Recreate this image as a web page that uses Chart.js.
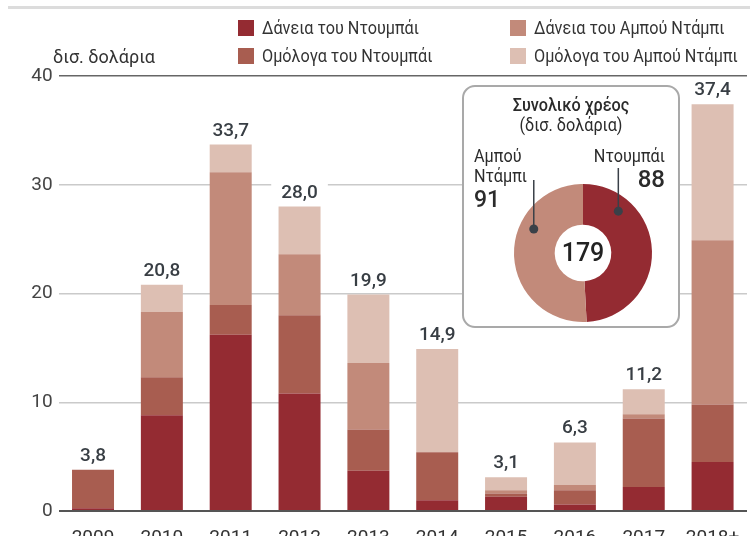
<!DOCTYPE html>
<html>
<head>
<meta charset="utf-8">
<script src="https://cdn.jsdelivr.net/npm/chart.js@4.4.1/dist/chart.umd.min.js"></script>
<style>
  html, body { margin: 0; padding: 0; background: #fff; overflow: hidden; }
  body { width: 750px; height: 536px; position: relative;
         font-family: Roboto, "Noto Sans", sans-serif; color: #333; }
  .abs { position: absolute; white-space: nowrap; }
  #topRule { left: 8px; top: 6px; width: 742px; height: 3px; background: #dcdcdc; }
  .sw { width: 16px; height: 16px; }
  .lg { font-size: 18px; line-height: 20px; transform: scaleX(0.9); transform-origin: 0 0; }
  #inset { left: 462px; top: 85px; width: 218px; height: 243px; box-sizing: border-box;
           border: 2px solid #a9a9a9; border-radius: 13px; background: #fff; }
  .it { font-size: 18px; line-height: 20px; color: #2b2b2b; transform: scaleX(0.9); }
  .big { font-weight: 500; line-height: 26px; color: #2b2b2b; }
</style>
</head>
<body>
<div class="abs" id="topRule"></div>
<canvas id="bars" class="abs" style="left:0;top:0" width="750" height="560"></canvas>
<div class="abs lg" style="left:53px;top:47px;transform:none;">δισ. δολάρια</div>
<div id="legend"></div>

<div class="abs" id="inset"></div>
<canvas id="donut" class="abs" style="left:462px;top:85px" width="218" height="243"></canvas>
<div class="abs it" style="left:462px;width:218px;text-align:center;top:95px;font-weight:500;">Συνολικό χρέος</div>
<div class="abs it" style="left:462px;width:218px;text-align:center;top:115px;">(δισ. δολάρια)</div>
<div id="donutLabels"></div>

<script>
// stacked bars: billions of dollars maturing per year
const years = ['2009', '2010', '2011', '2012', '2013', '2014', '2015', '2016', '2017', '2018+'];
const dubaiLoans = [0.25, 8.8, 16.2, 10.8, 3.7, 1.0, 1.3, 0.6, 2.2, 4.5];
const dubaiBonds = [3.55, 3.5, 2.75, 7.2, 3.8, 4.4, 0.3, 1.3, 6.3, 5.3];
const abuLoans = [0, 6.0, 12.2, 5.6, 6.1, 0, 0.3, 0.5, 0.4, 15.1];
const abuBonds = [0, 2.5, 2.55, 4.4, 6.3, 9.5, 1.2, 3.9, 2.3, 12.5];
const totals = [3.8, 20.8, 33.7, 28.0, 19.9, 14.9, 3.1, 6.3, 11.2, 37.4];
const yTicks = [0, 10, 20, 30, 40];

const seriesNames = ['Δάνεια του Ντουμπάι', 'Ομόλογα του Ντουμπάι', 'Δάνεια του Αμπού Ντάμπι', 'Ομόλογα του Αμπού Ντάμπι'];
const seriesColors = ['#942b32', '#a85d50', '#c28a7a', '#ddbfb3'];

// doughnut inset
const debtNames = ['Ντουμπάι', 'Αμπού Ντάμπι'];
const debtTotals = [88, 91];
const debtColors = ['#942b32', '#c28a7a'];

const FONT = 'Roboto, "Noto Sans", sans-serif';
Chart.defaults.font.family = FONT;

// legend, two columns: Dubai left, Abu Dhabi right
const legendSlots = [[238, 20], [238, 48], [510, 20], [510, 48]];
const legendEl = document.getElementById('legend');
seriesNames.forEach((name, i) => {
    const [lx, ly] = legendSlots[i];
    legendEl.insertAdjacentHTML('beforeend',
        `<div class="abs sw" style="left:${lx}px;top:${ly}px;background:${seriesColors[i]}"></div>` +
        `<div class="abs lg" style="left:${lx + 24}px;top:${ly - 2}px">${name}</div>`);
});

// totals above each stack, on a white patch so gridlines break behind them
const totalLabels = {
    id: 'totalLabels',
    afterDatasetsDraw(chart) {
        const { ctx, scales: { x, y } } = chart;
        ctx.save();
        ctx.font = '500 19px ' + FONT;
        ctx.textAlign = 'center';
        ctx.textBaseline = 'alphabetic';
        totals.forEach((t, i) => {
            const cx = x.getPixelForValue(i);
            const top = y.getPixelForValue(t);
            const txt = t.toFixed(1).replace('.', ',');
            const w = ctx.measureText(txt).width;
            ctx.fillStyle = '#fff';
            ctx.fillRect(cx - w / 2 - 10, top - 25, w + 20, 20);
            ctx.fillStyle = '#383e44';
            ctx.fillText(txt, cx, top - 9);
        });
        ctx.restore();
    }
};

const seriesData = [dubaiLoans, dubaiBonds, abuLoans, abuBonds];

new Chart(document.getElementById('bars').getContext('2d'), {
    type: 'bar',
    data: {
        labels: years,
        datasets: seriesData.map((d, i) => ({
            label: seriesNames[i],
            data: d,
            backgroundColor: seriesColors[i],
            borderWidth: 0,
            barPercentage: 0.61,
            categoryPercentage: 1
        }))
    },
    options: {
        responsive: false,
        animation: false,
        devicePixelRatio: 1,
        layout: { padding: { top: 76, right: 3, bottom: 9, left: 0 } },
        scales: {
            x: {
                stacked: true,
                grid: { display: false },
                border: { display: false },
                ticks: { font: { size: 19 }, color: '#333', padding: 8 },
                afterFit: s => { s.height = 40; }
            },
            y: {
                stacked: true,
                min: 0,
                max: 40,
                afterBuildTicks: s => { s.ticks = yTicks.map(v => ({ value: v })); },
                border: { display: false },
                grid: {
                    drawTicks: false,
                    color: c => c.tick.value === 0 ? '#555' : (c.tick.value === 40 ? '#666' : '#cacaca'),
                    lineWidth: c => c.tick.value === 0 ? 2 : 1.5
                },
                ticks: { font: { size: 19 }, color: '#444', padding: 6 },
                afterFit: s => { s.width = 58.6; }
            }
        },
        plugins: {
            legend: { display: false },
            tooltip: { enabled: false }
        }
    },
    plugins: [totalLabels]
});

// where along each slice the leader dot sits, and where its line ends (canvas y)
const leaderAt = [0.227, 0.65];
const leaderTop = [83, 95];

const leaders = {
    id: 'leaders',
    afterDatasetsDraw(chart) {
        const ctx = chart.ctx;
        ctx.save();
        let cx = 0, cy = 0;
        chart.getDatasetMeta(0).data.forEach((arc, i) => {
            const p = arc.getProps(['x', 'y', 'startAngle', 'endAngle', 'innerRadius', 'outerRadius']);
            cx = p.x; cy = p.y;
            const a = p.startAngle + leaderAt[i] * (p.endAngle - p.startAngle);
            const r = p.innerRadius + 0.65 * (p.outerRadius - p.innerRadius);
            const px = p.x + Math.cos(a) * r;
            const py = p.y + Math.sin(a) * r;
            ctx.strokeStyle = '#3a4048';
            ctx.lineWidth = 1.5;
            ctx.beginPath();
            ctx.moveTo(px, leaderTop[i]);
            ctx.lineTo(px, py);
            ctx.stroke();
            ctx.fillStyle = '#3a4048';
            ctx.beginPath();
            ctx.arc(px, py, 4.5, 0, Math.PI * 2);
            ctx.fill();
        });
        ctx.fillStyle = '#222';
        ctx.font = '500 25px ' + FONT;
        ctx.textAlign = 'center';
        ctx.textBaseline = 'middle';
        ctx.fillText(String(debtTotals.reduce((a, b) => a + b, 0)), cx, cy + 2);
        ctx.restore();
    }
};

new Chart(document.getElementById('donut').getContext('2d'), {
    type: 'doughnut',
    data: {
        labels: debtNames,
        datasets: [{ data: debtTotals, backgroundColor: debtColors, borderWidth: 0 }]
    },
    options: {
        responsive: false,
        animation: false,
        devicePixelRatio: 1,
        cutout: '41%',
        layout: { padding: { left: 52, right: 28, top: 99, bottom: 6 } },
        plugins: { legend: { display: false }, tooltip: { enabled: false } }
    },
    plugins: [leaders]
});

// slice names and values beside the ring
const dl = document.getElementById('donutLabels');
dl.insertAdjacentHTML('beforeend',
    `<div class="abs it" style="left:474px;top:146px;transform-origin:0 0;">${debtNames[1].split(' ')[0]}<br>${debtNames[1].split(' ')[1]}</div>` +
    `<div class="abs big" style="left:474px;top:187px;font-size:23px;">${debtTotals[1]}</div>` +
    `<div class="abs it" style="left:565px;width:100px;text-align:right;top:146px;transform-origin:100% 0;">${debtNames[0]}</div>` +
    `<div class="abs big" style="left:565px;width:100px;text-align:right;top:166px;font-size:24px;">${debtTotals[0]}</div>`);
</script>
</body>
</html>
